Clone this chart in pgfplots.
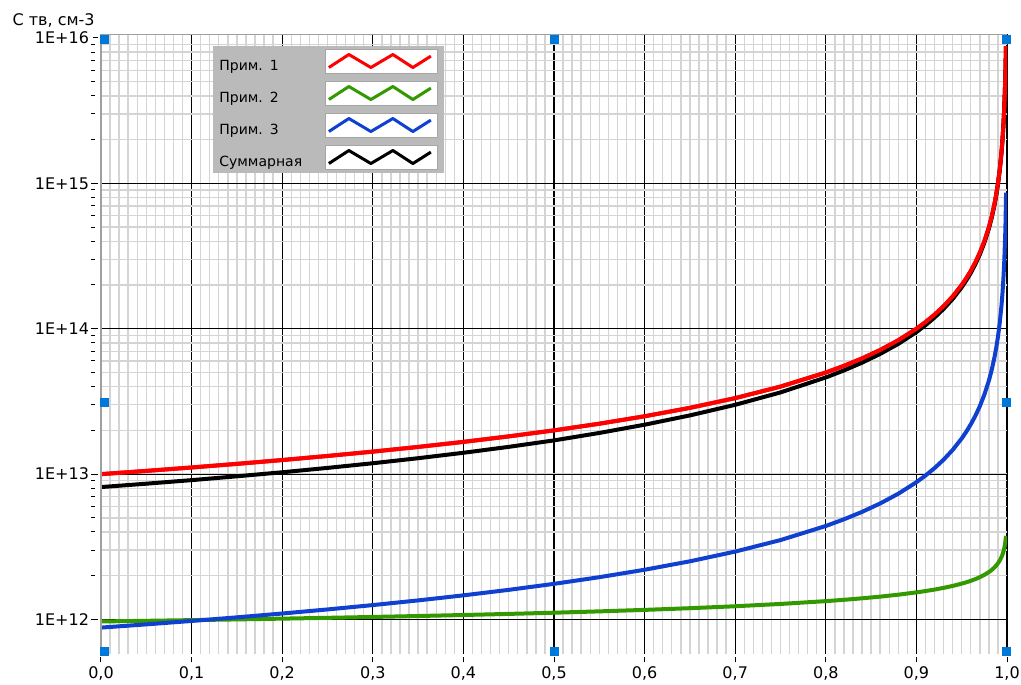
\documentclass[border=0pt]{standalone}
\usepackage{fontspec}
\setmainfont{DejaVu Sans}
\usepackage{pgfplots}
\usepackage{pgfplotstable}
\pgfplotsset{compat=1.18}
\definecolor{cred}{RGB}{255,0,0}
\definecolor{cgreen}{RGB}{51,153,0}
\definecolor{cblue}{RGB}{16,64,208}
\definecolor{handle}{RGB}{0,120,215}
\definecolor{legbg}{RGB}{186,186,186}
\definecolor{mgrid}{RGB}{212,212,212}

\pgfplotstableread{
x y
0 1.0000e13
0.05 1.0526e13
0.1 1.1111e13
0.15 1.1765e13
0.2 1.2500e13
0.25 1.3333e13
0.3 1.4286e13
0.35 1.5385e13
0.4 1.6667e13
0.45 1.8182e13
0.5 2.0000e13
0.55 2.2222e13
0.6 2.5000e13
0.65 2.8571e13
0.7 3.3333e13
0.75 4.0000e13
0.8 5.0000e13
0.82 5.5556e13
0.84 6.2500e13
0.86 7.1429e13
0.88 8.3333e13
0.9 1.0000e14
0.91 1.1111e14
0.92 1.2500e14
0.93 1.4286e14
0.94 1.6667e14
0.95 2.0000e14
0.955 2.2222e14
0.96 2.5000e14
0.965 2.8571e14
0.97 3.3333e14
0.975 4.0000e14
0.98 5.0000e14
0.983 5.8824e14
0.986 7.1429e14
0.988 8.3333e14
0.99 1.0000e15
0.992 1.2500e15
0.994 1.6667e15
0.995 2.0000e15
0.996 2.5000e15
0.997 3.3333e15
0.998 5.0000e15
0.9984 6.2500e15
0.99886 8.7720e15
}\redtab

\pgfplotstableread{
x y
0 9.700e11
0.05 9.800e11
0.1 9.907e11
0.15 1.0020e12
0.2 1.0143e12
0.25 1.0274e12
0.3 1.0417e12
0.35 1.0573e12
0.4 1.0743e12
0.45 1.0932e12
0.5 1.1142e12
0.55 1.1380e12
0.6 1.1651e12
0.65 1.1966e12
0.7 1.2341e12
0.75 1.2799e12
0.8 1.3383e12
0.82 1.3668e12
0.84 1.3994e12
0.86 1.4373e12
0.88 1.4823e12
0.9 1.5373e12
0.91 1.5701e12
0.92 1.6075e12
0.93 1.6510e12
0.94 1.7027e12
0.95 1.7659e12
0.955 1.8036e12
0.96 1.8465e12
0.965 1.8965e12
0.97 1.9559e12
0.975 2.0285e12
0.98 2.1211e12
0.983 2.1912e12
0.986 2.2780e12
0.988 2.3493e12
0.99 2.4365e12
0.992 2.5477e12
0.994 2.6986e12
0.995 2.7988e12
0.996 2.9265e12
0.997 3.0999e12
0.998 3.3618e12
0.9984 3.5151e12
0.99886 3.7617e12
}\greentab

\pgfplotstableread{
x y
0 8.800e11
0.05 9.263e11
0.1 9.778e11
0.15 1.0353e12
0.2 1.1000e12
0.25 1.1733e12
0.3 1.2571e12
0.35 1.3538e12
0.4 1.4667e12
0.45 1.6000e12
0.5 1.7600e12
0.55 1.9556e12
0.6 2.2000e12
0.65 2.5143e12
0.7 2.9333e12
0.75 3.5200e12
0.8 4.4000e12
0.82 4.8889e12
0.84 5.5000e12
0.86 6.2857e12
0.88 7.3333e12
0.9 8.8000e12
0.91 9.7778e12
0.92 1.1000e13
0.93 1.2571e13
0.94 1.4667e13
0.95 1.7600e13
0.955 1.9556e13
0.96 2.2000e13
0.965 2.5143e13
0.97 2.9333e13
0.975 3.5200e13
0.98 4.4000e13
0.983 5.1765e13
0.986 6.2857e13
0.988 7.3333e13
0.99 8.8000e13
0.992 1.1000e14
0.994 1.4667e14
0.995 1.7600e14
0.996 2.2000e14
0.997 2.9333e14
0.998 4.4000e14
0.9984 5.5000e14
0.99898 8.6300e14
}\bluetab

\pgfplotstableread{
x y
0 8.147e12
0.05 8.596e12
0.1 9.094e12
0.15 9.662e12
0.2 1.0301e13
0.25 1.1039e13
0.3 1.1883e13
0.35 1.2871e13
0.4 1.4024e13
0.45 1.5404e13
0.5 1.7062e13
0.55 1.9200e13
0.6 2.1875e13
0.65 2.5348e13
0.7 2.9983e13
0.75 3.6480e13
0.8 4.6235e13
0.82 5.1659e13
0.84 5.8438e13
0.86 6.7125e13
0.88 7.8672e13
0.9 9.4842e13
0.91 1.0572e14
0.92 1.1937e14
0.93 1.3687e14
0.94 1.6020e14
0.95 1.9277e14
0.955 2.1468e14
0.96 2.4207e14
0.965 2.7729e14
0.97 3.2425e14
0.975 3.9000e14
0.98 4.8862e14
0.983 5.7591e14
0.986 7.0060e14
0.988 8.1850e14
0.99 9.8401e14
0.992 1.2317e15
0.994 1.6450e15
0.995 1.9771e15
0.996 2.4742e15
0.997 3.3028e15
0.998 4.9598e15
0.9984 6.2027e15
0.99886 8.7116e15
}\blacktab

\begin{document}
\begin{tikzpicture}
\useasboundingbox (-50.5pt,-15pt) rectangle (460pt,327.25pt);
\begin{axis}[
  scale only axis, width=453pt, height=310pt,
  at={(0,0)}, anchor=south west,
  xmin=0, xmax=1,
  ymode=log, ymin=5.75e11, ymax=1.057e16,
  xtick={0,0.1,0.2,0.3,0.4,0.5,0.6,0.7,0.8,0.9,1.0},
  xticklabels={{0,0},{0,1},{0,2},{0,3},{0,4},{0,5},{0,6},{0,7},{0,8},{0,9},{1,0}},
  minor x tick num=9,
  ytick={1e12,1e13,1e14,1e15,1e16},
  yticklabels={1E+12,1E+13,1E+14,1E+15,1E+16},
  xmajorgrids=true, xminorgrids=true,
  ymajorgrids=false, yminorgrids=true,
  extra y ticks={1e12,1e13,1e14,1e15},
  extra y tick labels={},
  extra y tick style={grid=major},
  major grid style={black, line width=0.6pt},
  minor grid style={mgrid, line width=0.7pt},
  axis line style={draw=none},
  xtick pos=bottom, ytick pos=left,
  tick align=outside,
  major tick length=2.5pt, minor tick length=1.8pt,
  every tick/.style={black, line width=0.5pt},
  x tick style={yshift=-1.5pt},
  minor x tick style={draw=none},
  y tick style={xshift=-1.5pt},
  minor y tick style={xshift=-1.5pt},
  ticklabel style={font=\fontsize{8}{9}\selectfont},
  clip mode=individual,
  legend plot pos=right,
  legend cell align=left,
  legend image code/.code={
    \draw[fill=white, draw=gray!70, line width=0.5pt] (0pt,-3.5pt) rectangle (56pt,8.5pt);
    \draw[#1, line width=1.5pt, line join=round] (1.5pt,-0.5pt) -- (11.5pt,6pt) -- (22.5pt,-0.5pt) -- (33.5pt,6pt) -- (43.5pt,-0.5pt) -- (52.5pt,5.2pt);
  },
  legend style={
    at={(0.1236,0.982)}, anchor=north west,
    fill=legbg, draw=none,
    font=\fontsize{7}{8}\selectfont,
    inner xsep=3pt, inner ysep=1.5pt,
    row sep=3.5pt, column sep=3pt,
    nodes={inner xsep=0pt, inner ysep=0pt, text width=50pt},
  },
]
\addplot[cred, line width=2pt, line join=round] table[x=x, y=y] {\redtab};
\addlegendentry{Прим. 1}
\addplot[cgreen, line width=2pt, line join=round] table[x=x, y=y] {\greentab};
\addlegendentry{Прим. 2}
\addplot[cblue, line width=2pt, line join=round] table[x=x, y=y] {\bluetab};
\addlegendentry{Прим. 3}
\addplot[black, line width=2pt, line join=round] table[x=x, y=y] {\blacktab};
\addlegendentry{Суммарная}
\addplot[cred, line width=2pt, line join=round, forget plot] table[x=x, y=y] {\redtab};
\draw[gray!75, line width=0.6pt] (rel axis cs:0,0) -- (rel axis cs:0,1) -- (rel axis cs:1,1);
\addplot[only marks, mark=square*, mark size=2pt, color=handle, forget plot] coordinates {
(0.0033,9.8e15) (0.5,9.8e15) (0.9989,9.8e15)
(0.0033,3.13e13) (0.9989,3.13e13)
(0.0033,6.03e11) (0.5,6.03e11) (0.9989,6.03e11)
};
\node[anchor=base east, font=\fontsize{8}{9}\selectfont, inner sep=0pt] at ([xshift=-3pt,yshift=4.5pt]rel axis cs:0,1) {С тв, см-3};
\end{axis}
\end{tikzpicture}
\end{document}
